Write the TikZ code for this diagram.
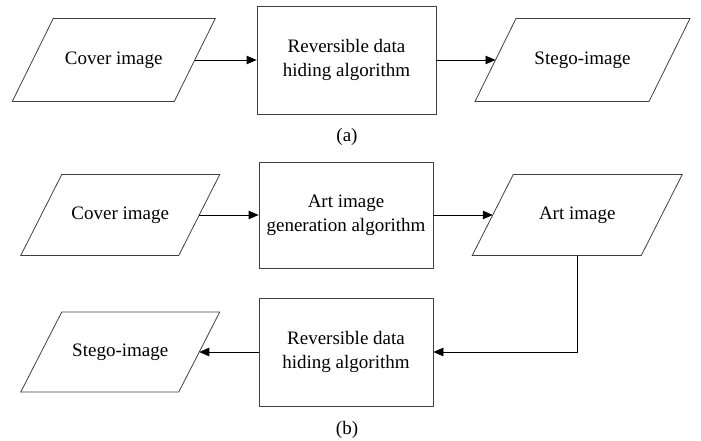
\documentclass[tikz,border=0pt]{standalone}
\usepackage{fontspec}
\setmainfont{Liberation Serif}
\usetikzlibrary{arrows.meta}
\tikzset{
  txt/.style={inner sep=0pt, align=center, font=\fontsize{19}{24}\selectfont},
  shapeline/.style={draw=black!75, line width=0.8pt},
  procbox/.style 2 args={shapeline, rectangle, minimum width=#1, minimum height=#2, align=center, inner sep=0pt, font=\fontsize{19}{24}\selectfont},
  arr/.style={draw=black, line width=0.8pt, -{Triangle[length=10pt,width=8.5pt]}},
}
\newcommand{\pgram}[6]{%
  \node[txt] (#1) at (#2,#3) {#6};
  \draw[shapeline] ({#2-#4/2+20.5},{#3-#5/2}) -- ({#2+#4/2+20.5},{#3-#5/2}) -- ({#2+#4/2-20.5},{#3+#5/2}) -- ({#2-#4/2-20.5},{#3+#5/2}) -- cycle;
  \coordinate (#1-l) at ({#2-#4/2},#3);
  \coordinate (#1-r) at ({#2+#4/2},#3);
  \coordinate (#1-b) at (#2,{#3+#5/2});
}
\begin{document}
\begin{tikzpicture}[x=1pt,y=-1pt]
\useasboundingbox (0,0) rectangle (701,441);
% (a)
\pgram{coverA}{113.75}{60}{162}{83}{Cover image}
\node[procbox={179pt}{108pt}] (hideA) at (346.5,60) {Reversible data\\hiding algorithm};
\pgram{stegoA}{582.5}{60}{174}{83}{Stego-image}
\draw[arr] (coverA-r) -- (hideA.west);
\draw[arr] (hideA.east) -- (stegoA-l);
\node[txt] (labA) at (347,137) {(a)};
% (b)
\pgram{coverB}{120.25}{215}{158}{81}{Cover image}
\node[procbox={174pt}{106pt}] (gen) at (346,215) {Art image\\generation algorithm};
\pgram{art}{577.25}{215}{169}{81}{Art image}
\node[procbox={174pt}{108pt}] (hideB) at (346,352) {Reversible data\\hiding algorithm};
\pgram{stegoB}{120.25}{352}{158}{80}{Stego-image}
\draw[arr] (coverB-r) -- (gen.west);
\draw[arr] (gen.east) -- (art-l);
\draw[arr] (art-b) |- (hideB.east);
\draw[arr] (hideB.west) -- (stegoB-r);
\node[txt] (labB) at (347,430) {(b)};
\end{tikzpicture}
\end{document}
